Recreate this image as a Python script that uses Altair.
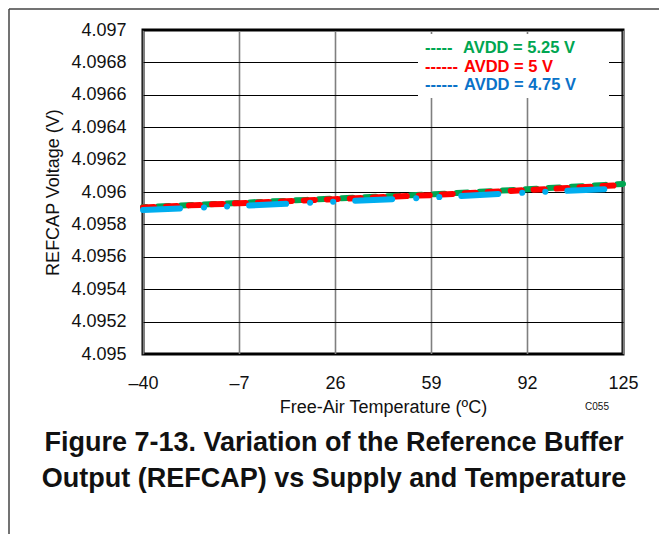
import altair as alt
import pandas as pd

# ---- data ----
temps = [-40, -7, 26, 59, 92, 125]
v_525 = [4.095907, 4.095933, 4.095959, 4.095985, 4.096017, 4.096050]
v_500 = [4.095905, 4.095931, 4.095956, 4.095981, 4.096012, 4.096043]
v_475 = [4.095889, 4.095914, 4.095941, 4.095966, 4.095997, 4.096022]

series = ["AVDD = 5.25 V", "AVDD = 5 V", "AVDD = 4.75 V"]
line_colors = ["#00A651", "#FF0000", "#00AEEF"]
text_colors = ["#00A651", "#FF0000", "#0A72C8"]
legend_dashes = ["-----", "------", "------"]
dash_patterns = [[11, 12], [11, 12], [37, 24, 0.1, 23, 0.1, 22]]
dash_offsets = [8, 0, 0]

x_ticks = [-40, -7, 26, 59, 92, 125]
y_ticks = [4.095, 4.0952, 4.0954, 4.0956, 4.0958, 4.096,
           4.0962, 4.0964, 4.0966, 4.0968, 4.097]
caption = ["Figure 7-13. Variation of the Reference Buffer",
           "Output (REFCAP) vs Supply and Temperature"]

FONT = "Liberation Sans"

rows = []
for name, vals in zip(series, [v_525, v_500, v_475]):
    for t, v in zip(temps, vals):
        rows.append({"series": name, "temp": t, "v": v})
df = pd.DataFrame(rows)

W, H = 480, 324

x_enc = alt.X("temp:Q",
              scale=alt.Scale(domain=[-40, 125], nice=False, zero=False),
              axis=alt.Axis(values=x_ticks, title="Free-Air Temperature (ºC)",
                            labelExpr="datum.value < 0 ? '\u2013' + abs(datum.value) : '' + datum.value",
                            grid=True, gridColor="#7f7f7f", gridWidth=1.6,
                            ticks=False, domain=False, labelFontSize=18,
                            labelFlush=False,
                            labelPadding=20, titlePadding=6, titleFontSize=18,
                            titleFontWeight="normal", labelColor="#111",
                            titleColor="#111", labelFont=FONT, titleFont=FONT))
y_enc = alt.Y("v:Q",
              scale=alt.Scale(domain=[4.095, 4.097], nice=False, zero=False),
              axis=alt.Axis(values=y_ticks, format=".4~f", title="REFCAP Voltage (V)",
                            grid=True, gridColor="#000000", gridWidth=1,
                            ticks=False, domain=False, labelFontSize=18,
                            labelFlush=False,
                            labelPadding=17, titlePadding=8, titleFontSize=18,
                            titleFontWeight="normal", labelColor="#111",
                            titleColor="#111", labelFont=FONT, titleFont=FONT))

layers = []
for name, col, dash, off in zip(series, line_colors, dash_patterns, dash_offsets):
    layers.append(
        alt.Chart(df).transform_filter(alt.datum.series == name)
        .mark_line(strokeWidth=6, strokeCap="round", strokeDash=dash,
                   strokeDashOffset=off, color=col)
        .encode(x=x_enc, y=y_enc)
    )

one = pd.DataFrame({"k": [0]})

legend_box = alt.Chart(one).mark_rect(color="white").encode(
    x=alt.value(275), x2=alt.value(466), y=alt.value(4), y2=alt.value(68))
layers.append(legend_box)

leg_y = [18, 37, 55]
for i in range(3):
    layers.append(alt.Chart(one).mark_text(
        text=legend_dashes[i], font=FONT, fontSize=16.5, fontWeight="bold",
        color=text_colors[i], align="left", baseline="middle").encode(
        x=alt.value(282), y=alt.value(leg_y[i])))
    layers.append(alt.Chart(one).mark_text(
        text=series[i], font=FONT, fontSize=16.5, fontWeight="bold",
        color=text_colors[i], align="left", baseline="middle").encode(
        x=alt.value(320 if i == 0 else 321), y=alt.value(leg_y[i])))

layers.append(alt.Chart(one).mark_text(
    text="C055", font=FONT, fontSize=10, color="#111",
    align="center", baseline="middle").encode(x=alt.value(454), y=alt.value(377)))

cap_y = [413, 449]
for i in range(2):
    layers.append(alt.Chart(one).mark_text(
        text=caption[i], font=FONT, fontSize=27, fontWeight="bold", color="#111",
        align="center", baseline="middle").encode(x=alt.value(191), y=alt.value(cap_y[i])))

# page frame lines (top and left)
layers.append(alt.Chart(one).mark_rule(color="#444", strokeWidth=1.5).encode(
    x=alt.value(-134), y=alt.value(-21), y2=alt.value(520)))
layers.append(alt.Chart(one).mark_rule(color="#444", strokeWidth=1.5).encode(
    x=alt.value(-134), x2=alt.value(530), y=alt.value(-21)))

chart = alt.layer(*layers).properties(
    width=W, height=H,
    autosize=alt.AutoSizeParams(type="none"),
    padding={"left": 135, "top": 22, "right": 36, "bottom": 180},
    background="white",
).configure_view(stroke="#000", strokeWidth=3)

chart.save("out.html", embed_options={"renderer": "svg", "actions": False})
